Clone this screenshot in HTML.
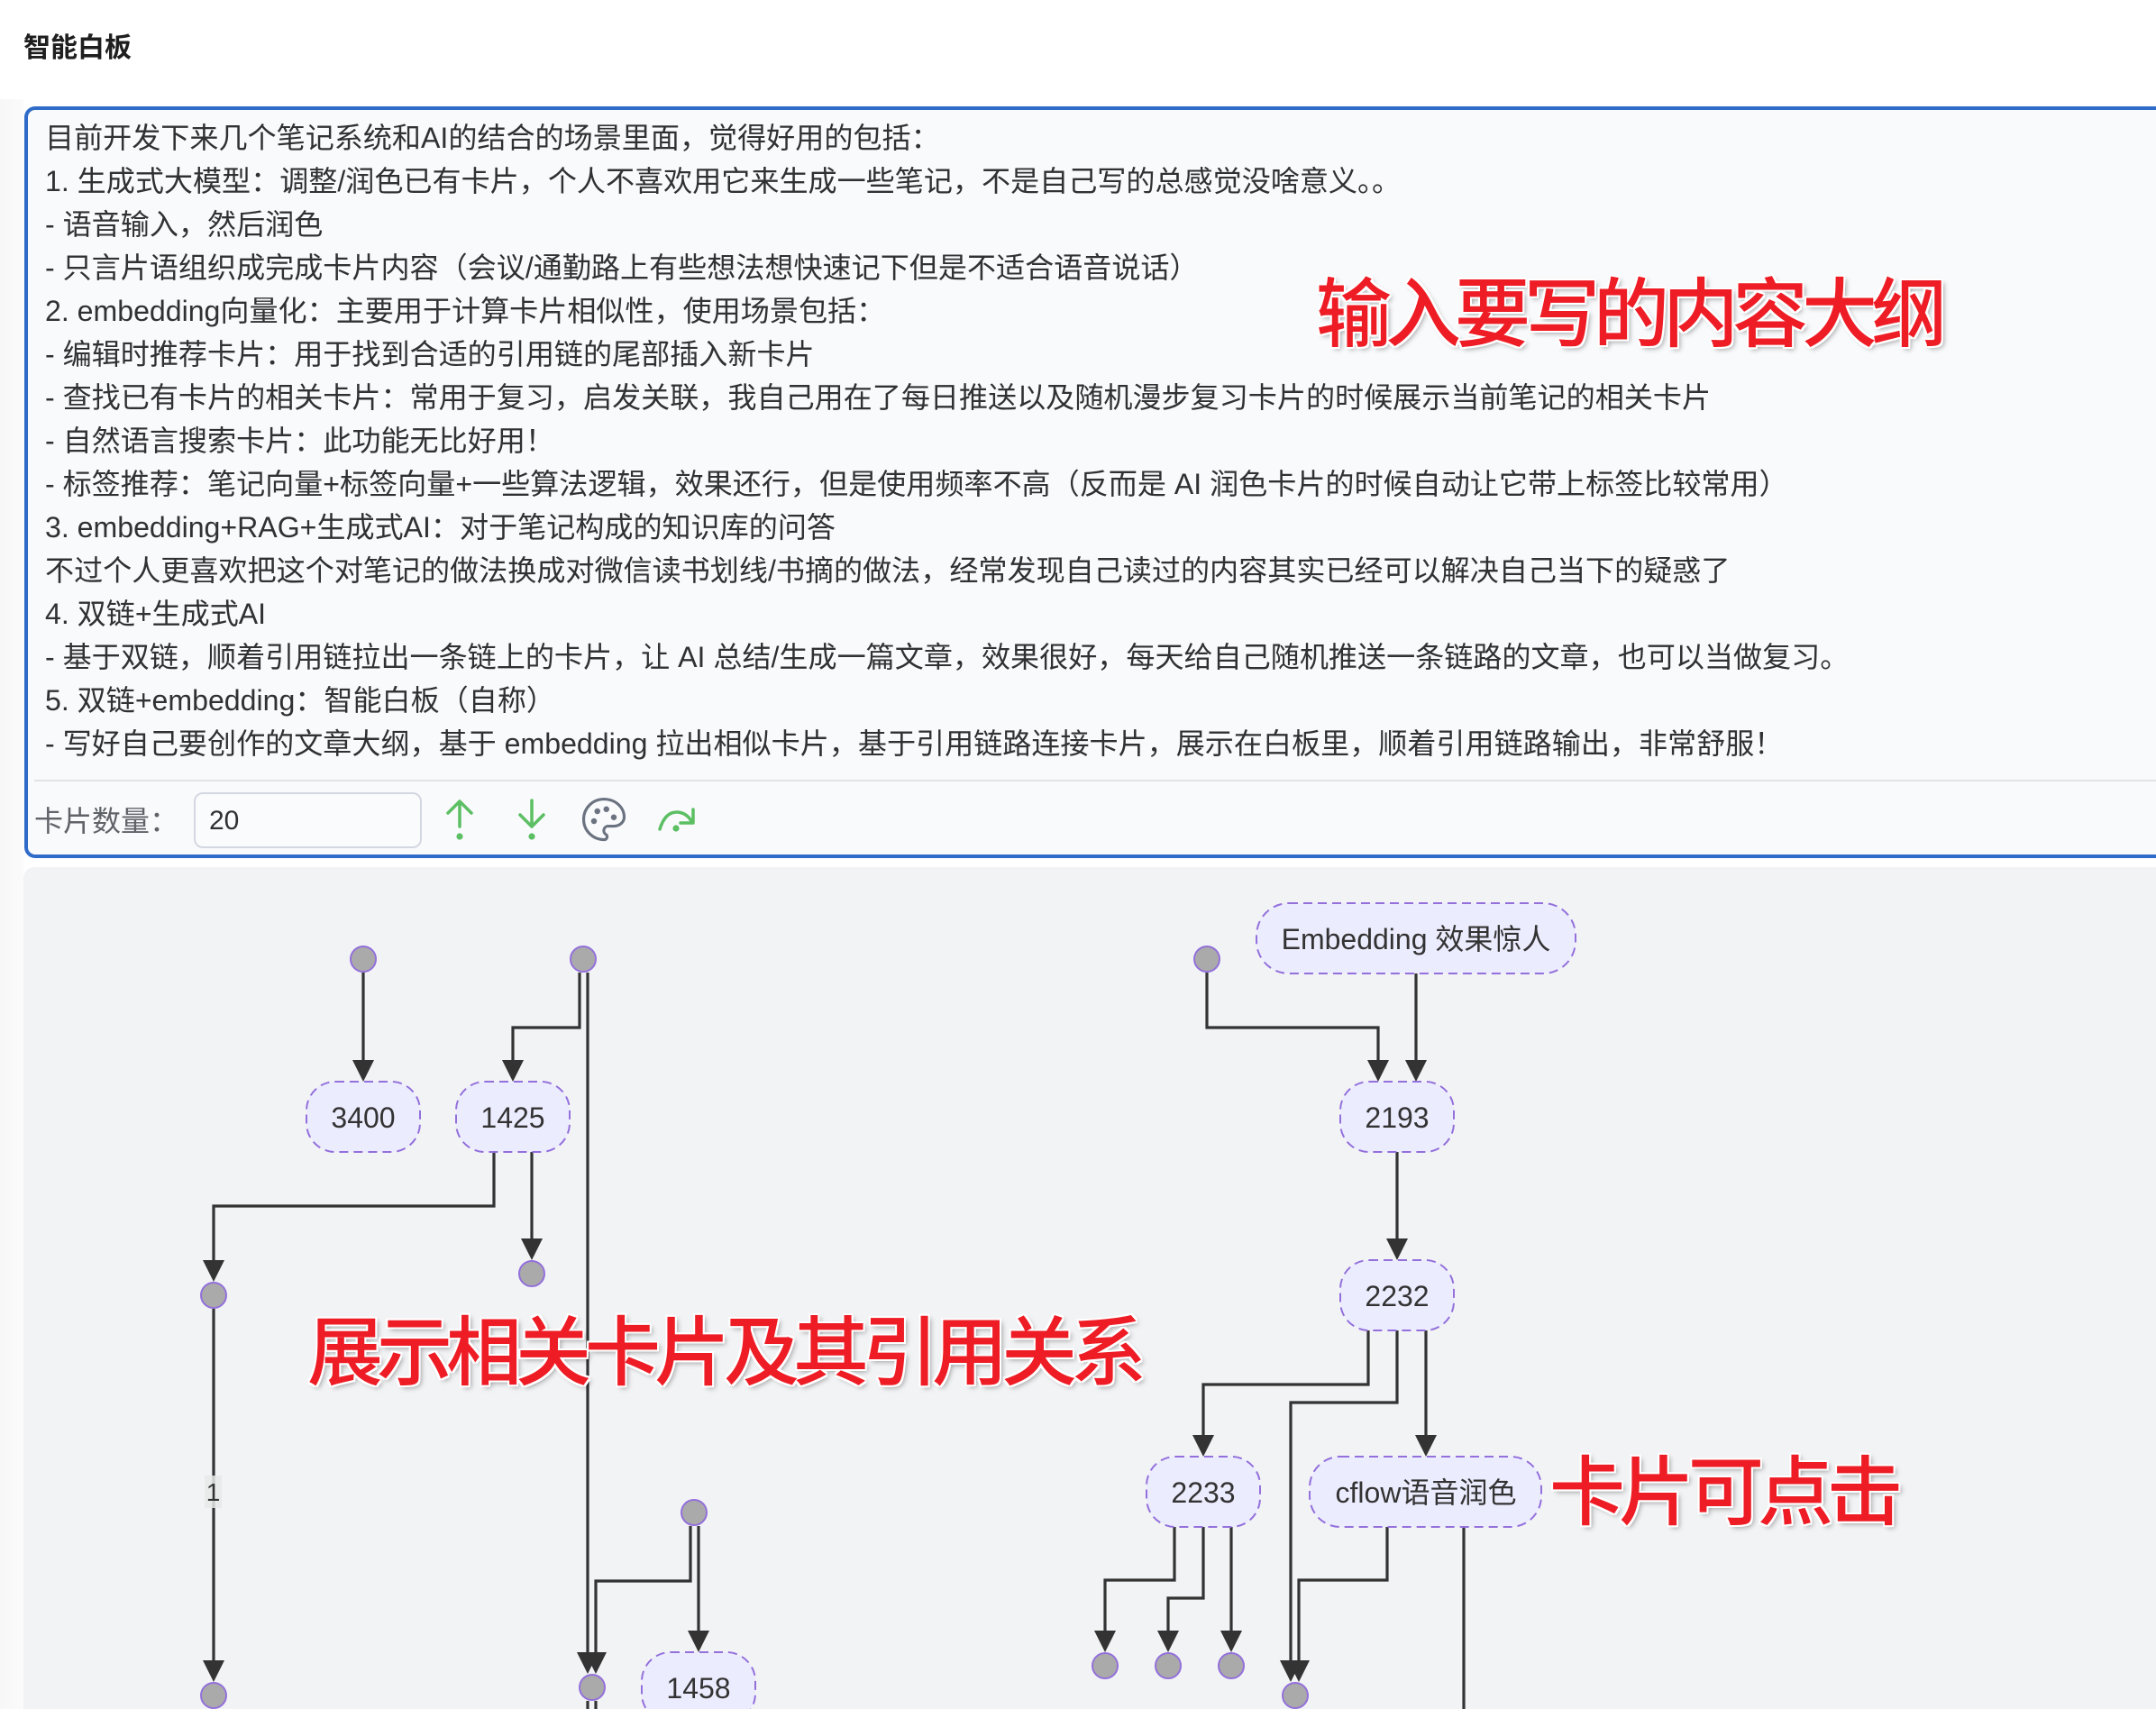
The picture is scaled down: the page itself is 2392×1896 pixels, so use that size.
<!DOCTYPE html>
<html>
<head>
<meta charset="utf-8">
<style>
  html, body { margin:0; padding:0; width:2392px; height:1896px; overflow:hidden; background:#ffffff; }
  #page { position:relative; width:2392px; height:1896px; overflow:hidden; background:#ffffff;
          font-family:"Liberation Sans","Noto Sans CJK SC",sans-serif; }
  .abs { position:absolute; }
  #strip { left:0; top:110px; width:26px; height:1786px; background:linear-gradient(to right,#f7f7f8,#fbfbfc); }
  #title { left:26px; top:34px; font-size:30px; line-height:40px; font-weight:600; color:#1f1f1f; white-space:nowrap; }
  #box { left:27px; top:118px; width:2420px; height:834px; box-sizing:border-box; border:4px solid #2f6bc8;
         border-radius:12px; background:#f9fafc; }
  #lines { left:50px; top:129px; font-size:32.1px; line-height:48px; color:#303133; white-space:nowrap; }
  #lines div { height:48px; }
  #sep { left:38px; top:865px; width:2400px; height:2px; background:#e1e3e7; }
  #lbl { left:38px; top:888px; font-size:32px; line-height:46px; color:#5f6368; white-space:nowrap; }
  #inp { left:215px; top:879px; width:253px; height:62px; box-sizing:border-box; border:2px solid #d3d8e0;
         border-radius:10px; background:#fafbfd; }
  #inptxt { left:232px; top:889px; font-size:30px; line-height:44px; color:#303133; }
  #graphbg { left:26px; top:962px; width:2366px; height:934px; background:#f2f3f5; border-top-left-radius:12px; }
  .red { position:absolute; font-family:"Noto Sans CJK SC","WenQuanYi Zen Hei",sans-serif; font-size:84px;
         line-height:84px; letter-spacing:-7px; color:#ee1c25; font-weight:500; white-space:nowrap;
         text-shadow: 2px 0 0 #fff, -2px 0 0 #fff, 0 2px 0 #fff, 0 -2px 0 #fff,
                      2px 2px 0 #fff, -2px -2px 0 #fff, 2px -2px 0 #fff, -2px 2px 0 #fff,
                      3px 3px 6px rgba(0,0,0,0.35); }
</style>
</head>
<body>
<div id="page">
<div id="strip" class="abs"></div>
<div id="title" class="abs">智能白板</div>

<div id="box" class="abs"></div>
<div id="lines" class="abs">
  <div>目前开发下来几个笔记系统和AI的结合的场景里面，觉得好用的包括：</div>
  <div>1. 生成式大模型：调整/润色已有卡片，个人不喜欢用它来生成一些笔记，不是自己写的总感觉没啥意义。。</div>
  <div>- 语音输入，然后润色</div>
  <div>- 只言片语组织成完成卡片内容（会议/通勤路上有些想法想快速记下但是不适合语音说话）</div>
  <div>2. embedding向量化：主要用于计算卡片相似性，使用场景包括：</div>
  <div>- 编辑时推荐卡片：用于找到合适的引用链的尾部插入新卡片</div>
  <div>- 查找已有卡片的相关卡片：常用于复习，启发关联，我自己用在了每日推送以及随机漫步复习卡片的时候展示当前笔记的相关卡片</div>
  <div>- 自然语言搜索卡片：此功能无比好用！</div>
  <div>- 标签推荐：笔记向量+标签向量+一些算法逻辑，效果还行，但是使用频率不高（反而是 AI 润色卡片的时候自动让它带上标签比较常用）</div>
  <div>3. embedding+RAG+生成式AI：对于笔记构成的知识库的问答</div>
  <div>不过个人更喜欢把这个对笔记的做法换成对微信读书划线/书摘的做法，经常发现自己读过的内容其实已经可以解决自己当下的疑惑了</div>
  <div>4. 双链+生成式AI</div>
  <div>- 基于双链，顺着引用链拉出一条链上的卡片，让 AI 总结/生成一篇文章，效果很好，每天给自己随机推送一条链路的文章，也可以当做复习。</div>
  <div>5. 双链+embedding：智能白板（自称）</div>
  <div>- 写好自己要创作的文章大纲，基于 embedding 拉出相似卡片，基于引用链路连接卡片，展示在白板里，顺着引用链路输出，非常舒服！</div>
</div>
<div id="sep" class="abs"></div>
<div id="lbl" class="abs">卡片数量：</div>
<div id="inp" class="abs"></div>
<div id="inptxt" class="abs">20</div>

<div id="graphbg" class="abs"></div>

<svg class="abs" style="left:0;top:0" width="2392" height="1896" viewBox="0 0 2392 1896" xmlns="http://www.w3.org/2000/svg">
  <!-- toolbar icons -->
  <g stroke="#5cbf63" stroke-width="3.5" fill="none" stroke-linecap="round" stroke-linejoin="round">
    <path d="M510 889 V917 M497 902 L510 889 L523 902"/>
    <path d="M590 888 V917 M577 904 L590 917 L603 904"/>
    <path d="M732 920 Q738 900 752 901 Q762 902 767 911"/>
    <path d="M769 898 V913 H755"/>
  </g>
  <g fill="#5cbf63">
    <circle cx="510" cy="928" r="3.6"/>
    <circle cx="590" cy="928" r="3.6"/>
    <circle cx="750" cy="919" r="3.6"/>
  </g>
  <g transform="translate(640,879) scale(2.5)" stroke="#6b7280" stroke-width="1.25" fill="none" stroke-linecap="round" stroke-linejoin="round">
    <path d="M12 21a9 9 0 0 1 0 -18c4.97 0 9 3.582 9 8c0 1.06 -.474 2.078 -1.318 2.828c-.844 .75 -1.989 1.172 -3.182 1.172h-2.5a2 2 0 0 0 -1 3.75a1.3 1.3 0 0 1 -1 2.25"/>
    <g fill="#6b7280" stroke="none">
      <circle cx="7.6" cy="12.8" r="1.3"/>
      <circle cx="9.1" cy="8.4" r="1.3"/>
      <circle cx="13.1" cy="7.5" r="1.3"/>
      <circle cx="16.4" cy="11.1" r="1.3"/>
    </g>
  </g>

  <!-- edges -->
  <g stroke="#333333" stroke-width="3.2" fill="none" stroke-linejoin="miter">
    <path d="M403 1079 V1182"/>
    <path d="M643 1079 V1140 H569 V1182"/>
    <path d="M652 1079 V1842"/>
    <path d="M548 1278 V1338 H237 V1406"/>
    <path d="M590 1278 V1382"/>
    <path d="M237 1452 V1850"/>
    <path d="M766 1693 V1754 H661 V1842"/>
    <path d="M775 1693 V1817"/>
    <path d="M1339 1079 V1140 H1529 V1182"/>
    <path d="M1571 1080 V1182"/>
    <path d="M1550 1278 V1382"/>
    <path d="M1518 1476 V1536 H1335 V1600"/>
    <path d="M1550 1476 V1556 H1432 V1850"/>
    <path d="M1582 1476 V1600"/>
    <path d="M1303 1694 V1753 H1226 V1817"/>
    <path d="M1335 1694 V1773 H1296 V1817"/>
    <path d="M1366 1694 V1817"/>
    <path d="M1539 1694 V1753 H1441 V1850"/>
    <path d="M1624 1694 V1900"/>
    <path d="M652 1887 V1900"/>
    <path d="M661 1887 V1900"/>
  </g>
  <!-- arrowheads -->
  <g fill="#333333">
    <polygon points="391,1176 415,1176 403,1200"/>
    <polygon points="557,1176 581,1176 569,1200"/>
    <polygon points="640,1833 664,1833 652,1857"/>
    <polygon points="225,1398 249,1398 237,1422"/>
    <polygon points="578,1374 602,1374 590,1398"/>
    <polygon points="225,1842 249,1842 237,1866"/>
    <polygon points="649,1833 673,1833 661,1857"/>
    <polygon points="763,1809 787,1809 775,1833"/>
    <polygon points="1517,1176 1541,1176 1529,1200"/>
    <polygon points="1559,1176 1583,1176 1571,1200"/>
    <polygon points="1538,1374 1562,1374 1550,1398"/>
    <polygon points="1323,1592 1347,1592 1335,1616"/>
    <polygon points="1420,1842 1444,1842 1432,1866"/>
    <polygon points="1570,1592 1594,1592 1582,1616"/>
    <polygon points="1214,1809 1238,1809 1226,1833"/>
    <polygon points="1284,1809 1308,1809 1296,1833"/>
    <polygon points="1354,1809 1378,1809 1366,1833"/>
    <polygon points="1429,1842 1453,1842 1441,1866"/>
  </g>

  <!-- edge label -->
  <rect x="227" y="1637" width="19" height="36" fill="#e8e8e8" opacity="0.85"/>
  <text x="236.5" y="1665" font-size="28" fill="#333" text-anchor="middle" font-family="Liberation Sans, sans-serif">1</text>

  <!-- small circle nodes -->
  <g fill="#aaaaaa" stroke="#9370db" stroke-width="2">
    <circle cx="403" cy="1064" r="14"/>
    <circle cx="647" cy="1064" r="14"/>
    <circle cx="1339" cy="1064" r="14"/>
    <circle cx="237" cy="1437" r="14"/>
    <circle cx="590" cy="1413" r="14"/>
    <circle cx="237" cy="1881" r="14"/>
    <circle cx="657" cy="1872" r="14"/>
    <circle cx="770" cy="1678" r="14"/>
    <circle cx="1226" cy="1848" r="14"/>
    <circle cx="1296" cy="1848" r="14"/>
    <circle cx="1366" cy="1848" r="14"/>
    <circle cx="1437" cy="1881" r="14"/>
  </g>

  <!-- card nodes -->
  <g fill="#ececff" stroke="#9370db" stroke-width="2" stroke-dasharray="10 6">
    <rect x="340" y="1200" width="126" height="78" rx="32" ry="32"/>
    <rect x="506" y="1200" width="126" height="78" rx="32" ry="32"/>
    <rect x="1394" y="1002" width="354" height="78" rx="36" ry="36"/>
    <rect x="1487" y="1200" width="126" height="78" rx="32" ry="32"/>
    <rect x="1487" y="1398" width="126" height="78" rx="32" ry="32"/>
    <rect x="1272" y="1616" width="126" height="78" rx="32" ry="32"/>
    <rect x="1453" y="1616" width="257" height="78" rx="34" ry="34"/>
    <rect x="712" y="1833" width="126" height="78" rx="32" ry="32"/>
  </g>
  <g font-size="32" fill="#333333" text-anchor="middle" font-family="Liberation Sans, Noto Sans CJK SC, sans-serif">
    <text x="403" y="1251">3400</text>
    <text x="569" y="1251">1425</text>
    <text x="1571" y="1053">Embedding 效果惊人</text>
    <text x="1550" y="1251">2193</text>
    <text x="1550" y="1449">2232</text>
    <text x="1335" y="1667">2233</text>
    <text x="1582" y="1667">cflow语音润色</text>
    <text x="775" y="1884">1458</text>
  </g>
</svg>

<div class="red" style="left:1460px;top:301px;">输入要写的内容大纲</div>
<div class="red" style="left:341px;top:1453px;">展示相关卡片及其引用关系</div>
<div class="red" style="left:1719px;top:1608px;">卡片可点击</div>
</div>
</body>
</html>
